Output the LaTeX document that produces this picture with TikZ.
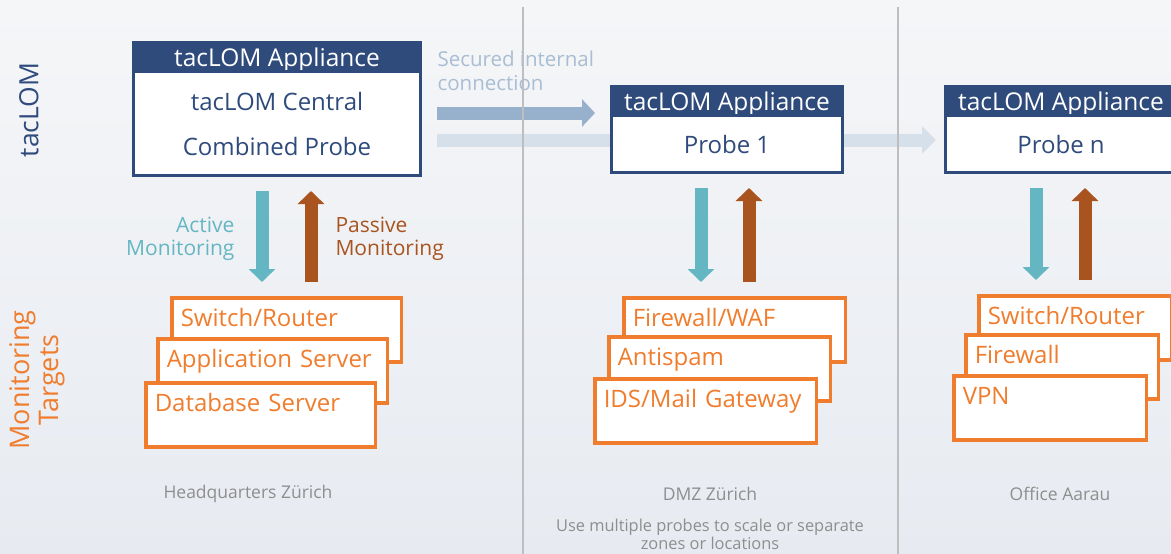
\documentclass[tikz,border=0pt]{standalone}
\usepackage{fontspec}
\setmainfont{Open Sans}
\usepackage{tikz}
\usetikzlibrary{positioning,arrows.meta,calc}
\definecolor{lomblue}{RGB}{47,75,124}
\definecolor{actteal}{RGB}{100,183,194}
\definecolor{pasbrown}{RGB}{169,84,31}
\definecolor{tgtorange}{RGB}{240,125,45}
\definecolor{linkblue}{RGB}{151,177,205}
\definecolor{linkpale}{RGB}{214,224,234}
\definecolor{linktext}{RGB}{169,189,211}
\definecolor{zonegray}{RGB}{142,142,142}
\definecolor{sepgray}{RGB}{190,190,192}

\begin{document}
\begin{tikzpicture}[x=1pt, y=-1pt,
    applhead/.style={rectangle, draw=lomblue, fill=lomblue, line width=3pt, text=white, minimum height=29pt, inner sep=0pt, text height=23.5pt, text depth=5.5pt, font=\fontsize{24.5}{26}\selectfont},
    applbody/.style={rectangle, draw=lomblue, fill=white, line width=3pt, text=lomblue, inner sep=0pt, align=center, font=\fontsize{24}{45}\selectfont},
    tgtbox/.style={rectangle, draw=tgtorange, fill=white, line width=3.5pt, text=tgtorange, align=left, anchor=north west, inner xsep=9pt, inner ysep=5pt, text height=24pt, text depth=30pt, text width=#1, font=\fontsize{24}{26}\selectfont},
    active/.style={actteal, line width=13pt, shorten <=14pt, shorten >=14pt, -{Triangle[width=26pt,length=13pt]}},
    passive/.style={pasbrown, line width=13pt, shorten <=14pt, shorten >=14pt, -{Triangle[width=26pt,length=13pt]}},
    zone/.style={text=zonegray, font=\fontsize{17.5}{20}\selectfont}
]

% Background
\useasboundingbox (0,0) rectangle (1171,554);
\shade[top color={rgb,255:red,245;green,246;blue,248}, bottom color={rgb,255:red,231;green,235;blue,241}] (0,0) rectangle (1171,554);

% Row labels
\node[rotate=90, text=lomblue, font=\fontsize{26.5}{30}\selectfont] (lomlbl) at (29,110) {tacLOM};
\node[rotate=90, text=tgtorange, align=center, font=\fontsize{27}{29}\selectfont] (tgtlbl) at (37,380) {Monitoring\\Targets};

% Secured internal connection
\node[anchor=west, text=linktext, align=left, font=\fontsize{20.5}{24}\selectfont] (linklbl) at (434,71) {Secured internal\\connection};
\coordinate (linkup) at (437,113);
\coordinate (linklow) at (437,140);

% Headquarters appliance
\node[applhead, minimum width=287pt] (hqhead) at (277,57) {tacLOM Appliance};
\node[applbody, minimum width=287pt, minimum height=104pt, below=-3pt of hqhead] (hq) {tacLOM Central\\Combined Probe};

% Probe 1
\node[applhead, minimum width=231pt] (p1head) at (727,101) {tacLOM Appliance};
\node[applbody, minimum width=231pt, minimum height=57pt, below=-3pt of p1head] (p1) {Probe 1};

% Probe n
\node[applhead, minimum width=231pt] (pnhead) at (1061,101) {tacLOM Appliance};
\node[applbody, minimum width=231pt, minimum height=57pt, below=-3pt of pnhead] (pn) {Probe n};

% Links between appliances
\draw[linkblue, line width=13pt, shorten >=15pt, -{Triangle[width=27pt,length=13pt]}] (linkup) -- (linkup -| p1head.west);
\draw[linkpale, line width=13pt] (linklow) -- (linklow -| p1.west);
\draw[linkpale, line width=13pt, shorten >=8pt, -{Triangle[width=27pt,length=14pt]}] (linklow -| p1.east) -- (linklow -| pnhead.west);

% Zone separators
\draw[sepgray, line width=1.2pt] (523,7) -- (523,554);
\draw[sepgray, line width=1.2pt] (898,7) -- (898,554);

% Monitoring targets, Headquarters
\node[tgtbox=211.5pt] (hqA) at (170,296) {Switch/Router};
\node[tgtbox=211.5pt] (hqB) at (156,337) {Application Server};
\node[tgtbox=211.5pt] (hqC) at (144,381) {Database Server};

% Monitoring targets, DMZ
\node[tgtbox=203.5pt] (dmzA) at (622,296) {Firewall/WAF};
\node[tgtbox=203.5pt] (dmzB) at (607,335) {Antispam};
\node[tgtbox=203.5pt] (dmzC) at (593,377) {IDS/Mail Gateway};

% Monitoring targets, Office
\node[tgtbox=174.5pt] (offA) at (977,294) {Switch/Router};
\node[tgtbox=174.5pt] (offB) at (964,333) {Firewall};
\node[tgtbox=174.5pt] (offC) at (952,374) {VPN};

% Active / passive monitoring
\draw[active] ([xshift=-15pt]hq.south) -- ([xshift=-15pt]hq.south |- hqA.north);
\draw[passive] ([xshift=34pt]hq.south |- hqA.north) -- ([xshift=34pt]hq.south);
\node[anchor=east, align=right, text=actteal, font=\fontsize{21}{23}\selectfont] (actlbl) at (238,239) {Active\\Monitoring};
\node[anchor=west, align=left, text=pasbrown, font=\fontsize{21}{23}\selectfont] (paslbl) at (332,239) {Passive\\Monitoring};

\draw[active] ([xshift=-26pt]p1.south) -- ([xshift=-26pt]p1.south |- dmzA.north);
\draw[passive] ([xshift=22pt]p1.south |- dmzA.north) -- ([xshift=22pt]p1.south);

\draw[active] ([xshift=-25pt]pn.south) -- ([xshift=-25pt]pn.south |- offA.north);
\draw[passive] ([xshift=24pt]pn.south |- offA.north) -- ([xshift=24pt]pn.south);

% Zone names
\node[zone] (hqzone) at (248,494) {Headquarters Zürich};
\node[zone] (dmzzone) at (710,494) {DMZ Zürich};
\node[zone, align=center, font=\fontsize{16.4}{18}\selectfont] (dmznote) at (710,534) {Use multiple probes to scale or separate\\zones or locations};
\node[zone] (offzone) at (1060,494) {Office Aarau};

\end{tikzpicture}
\end{document}
